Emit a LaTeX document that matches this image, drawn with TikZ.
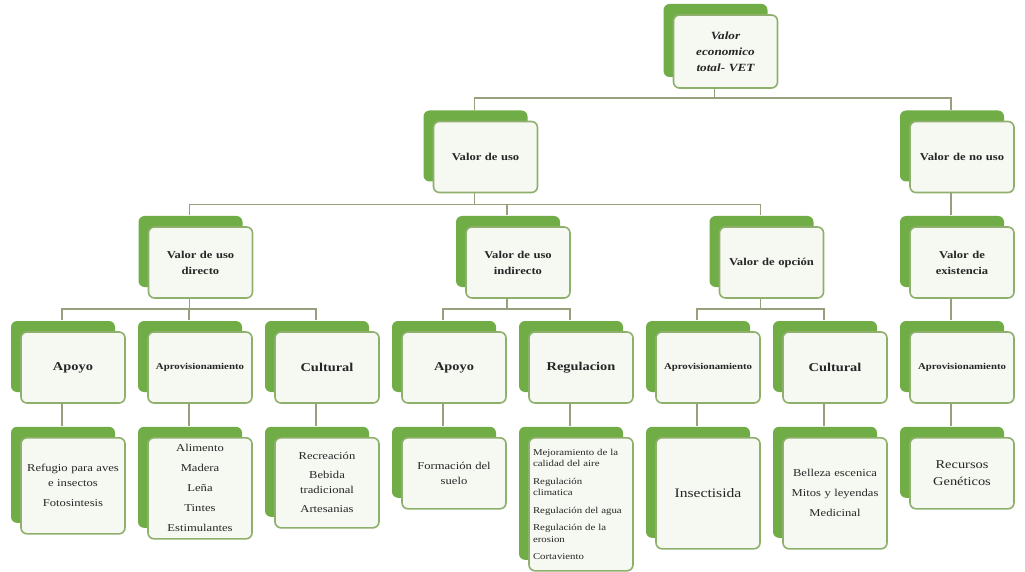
\documentclass[tikz,border=0pt]{standalone}
\usepackage{fontspec}
\setmainfont{Liberation Serif}[FakeStretch=1.2]
\usetikzlibrary{shadows}
\definecolor{backgreen}{RGB}{112,173,71}
\definecolor{edgegreen}{RGB}{142,176,108}
\definecolor{boxfill}{RGB}{246,248,242}
\definecolor{linegray}{RGB}{150,160,125}
\tikzset{
  card/.style={draw=edgegreen, line width=1.6pt, fill=boxfill, rounded corners=6pt,
    minimum width=104pt, minimum height=71pt, inner sep=4pt, text width=96pt, align=center,
    text=black!85,
    general shadow={fill=backgreen, shadow xshift=-10pt, shadow yshift=11pt}},
  valbox/.style={card, font=\fontsize{10.5}{16}\selectfont\bfseries},
  servbox/.style={card, font=\fontsize{12}{14}\selectfont\bfseries},
  leafbox/.style={card, anchor=north, font=\fontsize{10.5}{15}\selectfont},
  conn/.style={draw=linegray, line width=1.5pt},
}
\begin{document}
\begin{tikzpicture}[x=1pt,y=-1pt]
		\fill[white] (0,0) rectangle (1025,572);
		\useasboundingbox (0,0) rectangle (1025,572);
		% top levels
		\node[valbox, minimum height=73pt, font=\fontsize{11}{16}\selectfont\bfseries\itshape] (vet) at (725.5,51.5) {Valor\\economico\\total- VET};
		\node[valbox] (uso) at (485.5,157) {Valor de uso};
		\node[valbox] (nouso) at (962,157) {Valor de no uso};
		\node[valbox] (dir) at (200.5,262.5) {Valor de uso\\directo};
		\node[valbox] (ind) at (518,262.5) {Valor de uso\\indirecto};
		\node[valbox] (opc) at (771.5,262.5) {Valor de opción};
		\node[valbox] (exi) at (962,262.5) {Valor de\\existencia};
		% services
		\node[servbox] (s1) at (73,367.5) {Apoyo};
		\node[servbox, font=\fontsize{9}{11}\selectfont\bfseries] (s2) at (200,367.5) {Aprovisionamiento};
		\node[servbox] (s3) at (327,367.5) {Cultural};
		\node[servbox] (s4) at (454,367.5) {Apoyo};
		\node[servbox] (s5) at (581,367.5) {Regulacion};
		\node[servbox, font=\fontsize{9}{11}\selectfont\bfseries] (s6) at (708,367.5) {Aprovisionamiento};
		\node[servbox] (s7) at (835,367.5) {Cultural};
		\node[servbox, font=\fontsize{9}{11}\selectfont\bfseries] (s8) at (962,367.5) {Aprovisionamiento};
		% examples
		\node[leafbox, minimum height=96pt] (l1) at (73,437) {Refugio para aves\\e insectos\\[5pt]Fotosintesis};
		\node[leafbox, minimum height=101pt, font=\fontsize{10.5}{20}\selectfont] (l2) at (200,437) {Alimento\\Madera\\Leña\\Tintes\\Estimulantes};
		\node[leafbox, minimum height=90pt] (l3) at (327,437) {Recreación\\[4pt]Bebida\\tradicional\\[4pt]Artesanias};
		\node[leafbox] (l4) at (454,437) {Formación del\\suelo};
		\node[leafbox, minimum height=133pt, align=left, font=\fontsize{9}{11.5}\selectfont] (l5) at (581,437) {Mejoramiento de la\\calidad del aire\\[6pt]Regulación\\climatica\\[6pt]Regulación del agua\\[6pt]Regulación de la\\erosion\\[6pt]Cortaviento};
		\node[leafbox, minimum height=111pt, font=\fontsize{13}{15}\selectfont] (l6) at (708,437) {Insectisida};
		\node[leafbox, minimum height=111pt, font=\fontsize{10.5}{20}\selectfont] (l7) at (835,437) {Belleza escenica\\Mitos y leyendas\\Medicinal};
		\node[leafbox, font=\fontsize{12}{17}\selectfont] (l8) at (962,437) {Recursos\\Genéticos};
		% connectors
		\draw[conn] ([xshift=-11pt]vet.south) -- ++(0,9) -| ([xshift=-11pt,yshift=11pt]uso.north);
		\draw[conn] ([xshift=-11pt]vet.south) -- ++(0,9) -| ([xshift=-11pt,yshift=11pt]nouso.north);
		\foreach \c in {dir,ind,opc}
			\draw[conn] ([xshift=-11pt]uso.south) -- ++(0,11) -| ([xshift=-11pt,yshift=11pt]\c.north);
		\draw[conn] ([xshift=-11pt]nouso.south) -- ([xshift=-11pt,yshift=11pt]exi.north);
		\foreach \c in {s1,s2,s3}
			\draw[conn] ([xshift=-11pt]dir.south) -- ++(0,10) -| ([xshift=-11pt,yshift=11pt]\c.north);
		\foreach \c in {s4,s5}
			\draw[conn] ([xshift=-11pt]ind.south) -- ++(0,10) -| ([xshift=-11pt,yshift=11pt]\c.north);
		\foreach \c in {s6,s7}
			\draw[conn] ([xshift=-11pt]opc.south) -- ++(0,10) -| ([xshift=-11pt,yshift=11pt]\c.north);
		\draw[conn] ([xshift=-11pt]exi.south) -- ([xshift=-11pt,yshift=11pt]s8.north);
		\foreach \i in {1,...,8}
			\draw[conn] ([xshift=-11pt]s\i.south) -- ([xshift=-11pt,yshift=11pt]l\i.north);
\end{tikzpicture}
\end{document}
